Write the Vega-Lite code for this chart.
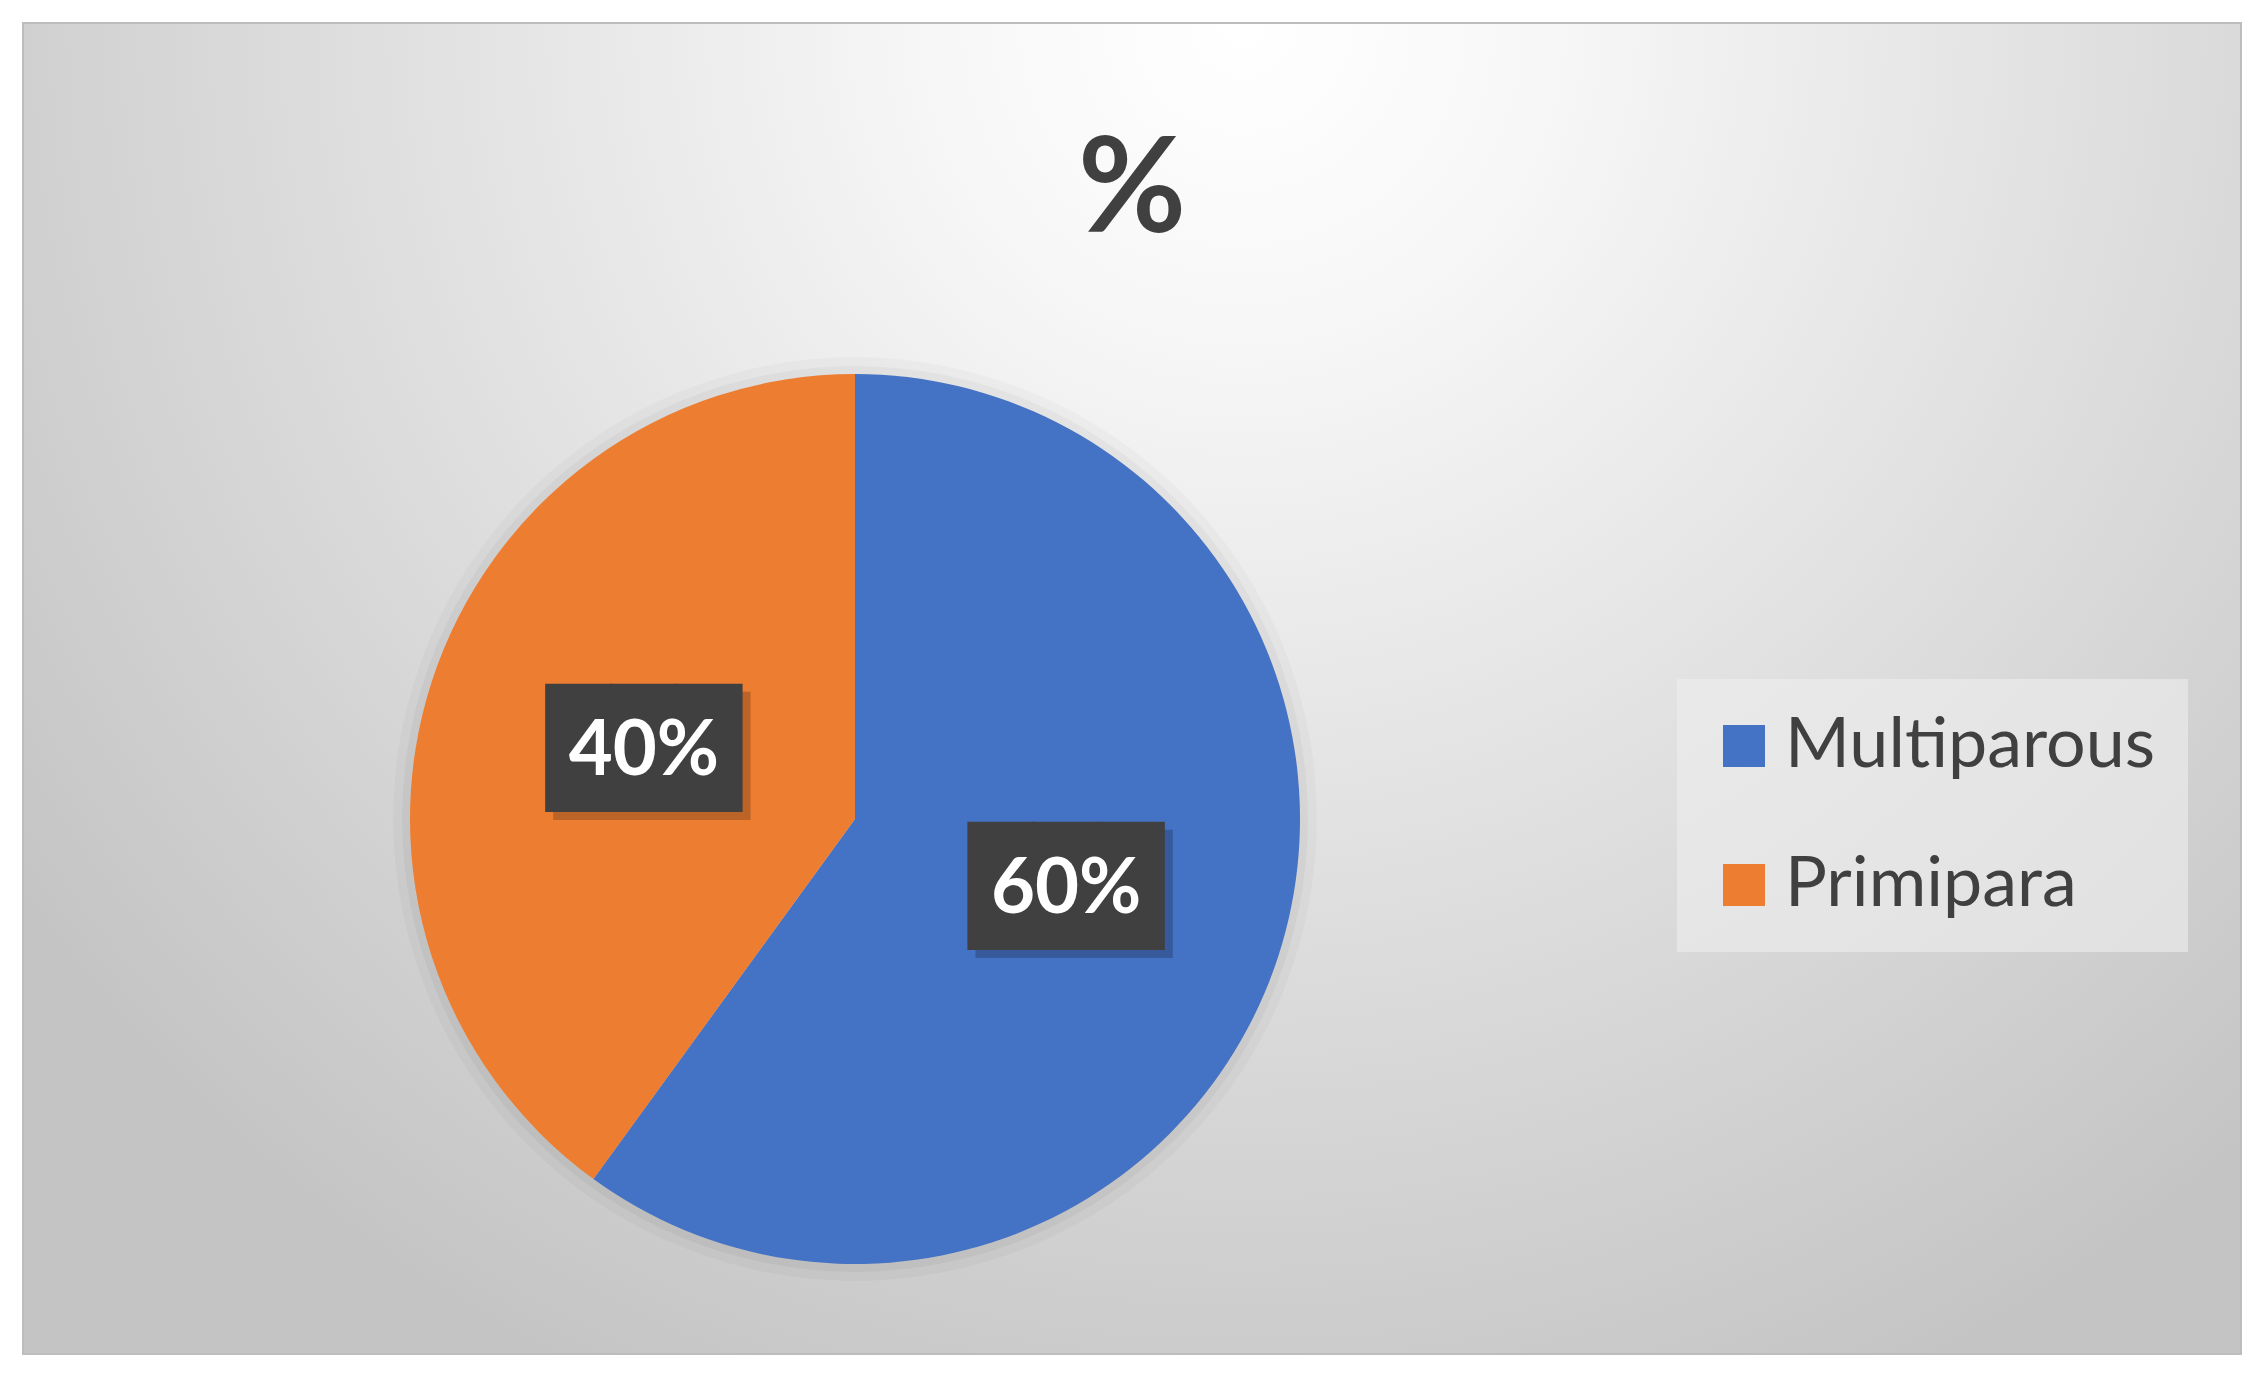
{
  "$schema": "https://vega.github.io/schema/vega-lite/v6.json",
  "width": 2264,
  "height": 1377,
  "autosize": {"type": "fit", "contains": "padding"},
  "padding": {"left": 23, "top": 23, "right": 23, "bottom": 23},
  "background": "#ffffff",
  "title": {
    "text": "%",
    "font": "Lato",
    "fontSize": 132,
    "fontWeight": "bold",
    "color": "#404040",
    "anchor": "middle",
    "baseline": "alphabetic",
    "offset": 0,
    "dy": 341
  },
  "data": {
    "values": [
      {"group": "Multiparous", "percent": 60, "label": "60%"},
      {"group": "Primipara", "percent": 40, "label": "40%"}
    ]
  },
  "encoding": {
    "x": {"value": 832},
    "y": {"value": 796}
  },
  "layer": [
    {
      "mark": {"type": "arc", "outerRadius": 462, "fill": "#000000", "fillOpacity": 0.012, "stroke": null},
      "encoding": {}
    },
    {
      "mark": {"type": "arc", "outerRadius": 453, "fill": "#000000", "fillOpacity": 0.015, "stroke": null},
      "encoding": {}
    },
    {
      "mark": {"type": "arc", "outerRadius": 445, "stroke": null},
      "encoding": {
        "theta": {"field": "percent", "type": "quantitative", "stack": true},
        "order": {"field": "percent", "sort": "descending"},
        "color": {
          "field": "group",
          "type": "nominal",
          "scale": {"domain": ["Multiparous", "Primipara"], "range": ["#4472C4", "#ED7D31"]},
          "legend": {
            "orient": "none",
            "legendX": 1654,
            "legendY": 656,
            "title": null,
            "symbolType": "square",
            "symbolSize": 1764,
            "symbolStrokeWidth": 0,
            "labelFont": "Lato",
            "labelFontSize": 70,
            "labelColor": "#404040",
            "labelOffset": 6,
            "labelLimit": 600,
            "rowPadding": 69,
            "padding": 32,
            "fillColor": "rgba(238,238,238,0.6)",
            "strokeColor": null
          }
        }
      }
    },
    {
      "mark": {"type": "text", "radius": 222, "font": "DejaVu Sans Mono", "fontSize": 108, "align": "center", "baseline": "middle", "color": "#000000", "opacity": 0.2, "dx": 8, "dy": 11},
      "encoding": {
        "theta": {"field": "percent", "type": "quantitative", "stack": true},
        "order": {"field": "percent", "sort": "descending"},
        "text": {"value": "███"}
      }
    },
    {
      "mark": {"type": "text", "radius": 222, "font": "DejaVu Sans Mono", "fontSize": 108, "align": "center", "baseline": "middle", "color": "#404040", "dy": 3},
      "encoding": {
        "theta": {"field": "percent", "type": "quantitative", "stack": true},
        "order": {"field": "percent", "sort": "descending"},
        "text": {"value": "███"}
      }
    },
    {
      "mark": {"type": "text", "radius": 222, "font": "Lato", "fontSize": 76, "fontWeight": "bold", "align": "center", "baseline": "middle", "color": "#ffffff", "dy": 2},
      "encoding": {
        "theta": {"field": "percent", "type": "quantitative", "stack": true},
        "order": {"field": "percent", "sort": "descending"},
        "text": {"field": "label"}
      }
    }
  ],
  "config": {
    "view": {
      "fill": {
        "gradient": "radial",
        "x1": 0.55, "y1": 0.2, "r1": 0,
        "x2": 0.55, "y2": 0.2, "r2": 0.68,
        "stops": [
          {"offset": 0, "color": "#ffffff"},
          {"offset": 0.2, "color": "#f7f7f7"},
          {"offset": 1, "color": "#c4c4c4"}
        ]
      },
      "stroke": "#bdbdbd",
      "strokeWidth": 2
    }
  }
}
